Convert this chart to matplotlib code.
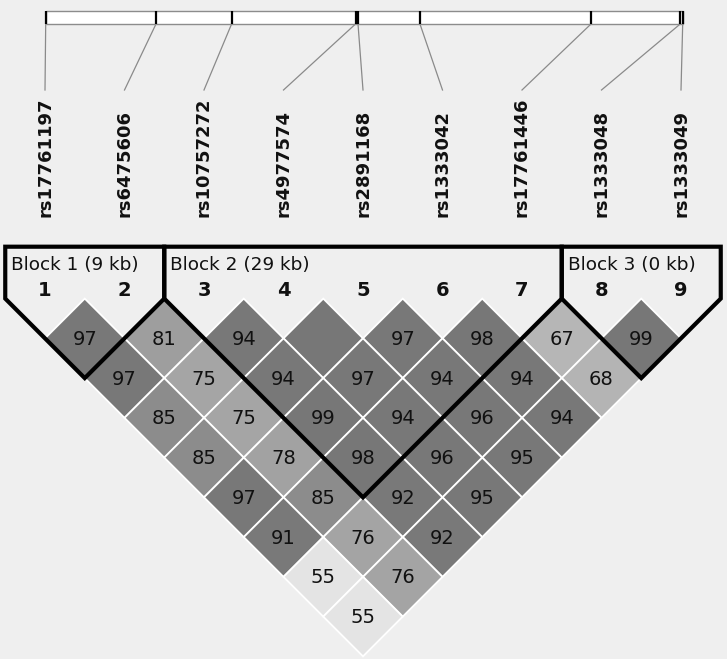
import numpy as np
import matplotlib
matplotlib.use('Agg')
import matplotlib.pyplot as plt
from matplotlib.patches import Polygon, Rectangle

# SNP names and physical positions (kb, relative to the first SNP)
snp_names = ['rs17761197', 'rs6475606', 'rs10757272', 'rs4977574', 'rs2891168',
             'rs1333042', 'rs17761446', 'rs1333048', 'rs1333049']
snp_kb = [0.0, 8.9, 15.0, 25.0, 25.2, 30.2, 44.0, 51.2, 51.4]

# D' values (x100), row r holds pairs (i, i+r); 100 is drawn without a number
dprime_rows = [
    [97, 81, 94, 100, 97, 98, 67, 99],
    [97, 75, 94, 97, 94, 94, 68],
    [85, 75, 99, 94, 96, 94],
    [85, 78, 98, 96, 95],
    [97, 85, 92, 95],
    [91, 76, 92],
    [55, 76],
    [55],
]

# haplotype blocks: (first snp, last snp, label)
blocks = [(1, 2, 'Block 1 (9 kb)'), (3, 7, 'Block 2 (29 kb)'), (8, 9, 'Block 3 (0 kb)')]

# layout (pixel space)
X0, DX = 45.0, 79.5
H = DX / 2
ROW_TOP = 298.6
BAR_X0, BAR_X1 = 45.7, 682.7
BAR_Y0, BAR_Y1 = 11, 24
BLOCK_TOP = 246.7
BG = '#efefef'


def snp_x(i):
    return X0 + (i - 1) * DX


def shade(v):
    g = np.interp(v, [55, 67, 75, 81, 85, 90, 100], [228, 182, 165, 158, 140, 121, 119])
    return (g / 255, g / 255, g / 255)


fig = plt.figure(figsize=(7.27, 6.59), dpi=100, facecolor=BG)
ax = fig.add_axes([0, 0, 1, 1])
ax.set_facecolor(BG)
ax.set_xlim(0, 727)
ax.set_ylim(659, 0)
ax.axis('off')

# physical map bar
ax.add_patch(Rectangle((BAR_X0, BAR_Y0), BAR_X1 - BAR_X0, BAR_Y1 - BAR_Y0,
                       facecolor='white', edgecolor='#8c8c8c', lw=1.0, zorder=2))
kb_scale = (BAR_X1 - BAR_X0) / (snp_kb[-1] - snp_kb[0])
for i, (name, kb) in enumerate(zip(snp_names, snp_kb), start=1):
    tx = BAR_X0 + (kb - snp_kb[0]) * kb_scale
    ax.plot([tx, tx], [BAR_Y0, BAR_Y1], color='black', lw=1.6, zorder=3,
            solid_capstyle='butt')
    ax.plot([tx, snp_x(i)], [BAR_Y1, 90], color='#8a8a8a', lw=0.9, zorder=2)
    ax.text(snp_x(i), 217, name, rotation=90, ha='center', va='bottom',
            fontsize=13, fontweight='bold', color='#111111')

# LD diamonds
for r, row in enumerate(dprime_rows, start=1):
    for k, v in enumerate(row):
        i, j = k + 1, k + 1 + r
        cx = (snp_x(i) + snp_x(j)) / 2
        cy = ROW_TOP + r * H
        diamond = Polygon([(cx, cy - H), (cx + H, cy), (cx, cy + H), (cx - H, cy)],
                          closed=True, facecolor=shade(v), edgecolor='white',
                          lw=1.3, zorder=3)
        ax.add_patch(diamond)
        if v < 100:
            ax.text(cx, cy + 1, str(v), ha='center', va='center',
                    fontsize=14, color='#111111', zorder=5)

# block outlines and labels
for a, b, label in blocks:
    left = snp_x(a) - H
    right = snp_x(b) + H
    apex_x = (snp_x(a) + snp_x(b)) / 2
    apex_y = ROW_TOP + (b - a) * H + H
    outline = [(left, ROW_TOP), (left, BLOCK_TOP), (right, BLOCK_TOP),
               (right, ROW_TOP), (apex_x, apex_y)]
    ax.add_patch(Polygon(outline, closed=True, fill=False, edgecolor='black',
                         lw=3.0, joinstyle='miter', zorder=6))
    ax.text(left + 6, 265, label, ha='left', va='center', fontsize=13.3,
            color='#111111', zorder=7)

for i in range(1, len(snp_names) + 1):
    ax.text(snp_x(i), 290.5, str(i), ha='center', va='center', fontsize=14,
            fontweight='bold', color='#111111', zorder=7)

fig.savefig('out.png', dpi=100, facecolor=BG)
